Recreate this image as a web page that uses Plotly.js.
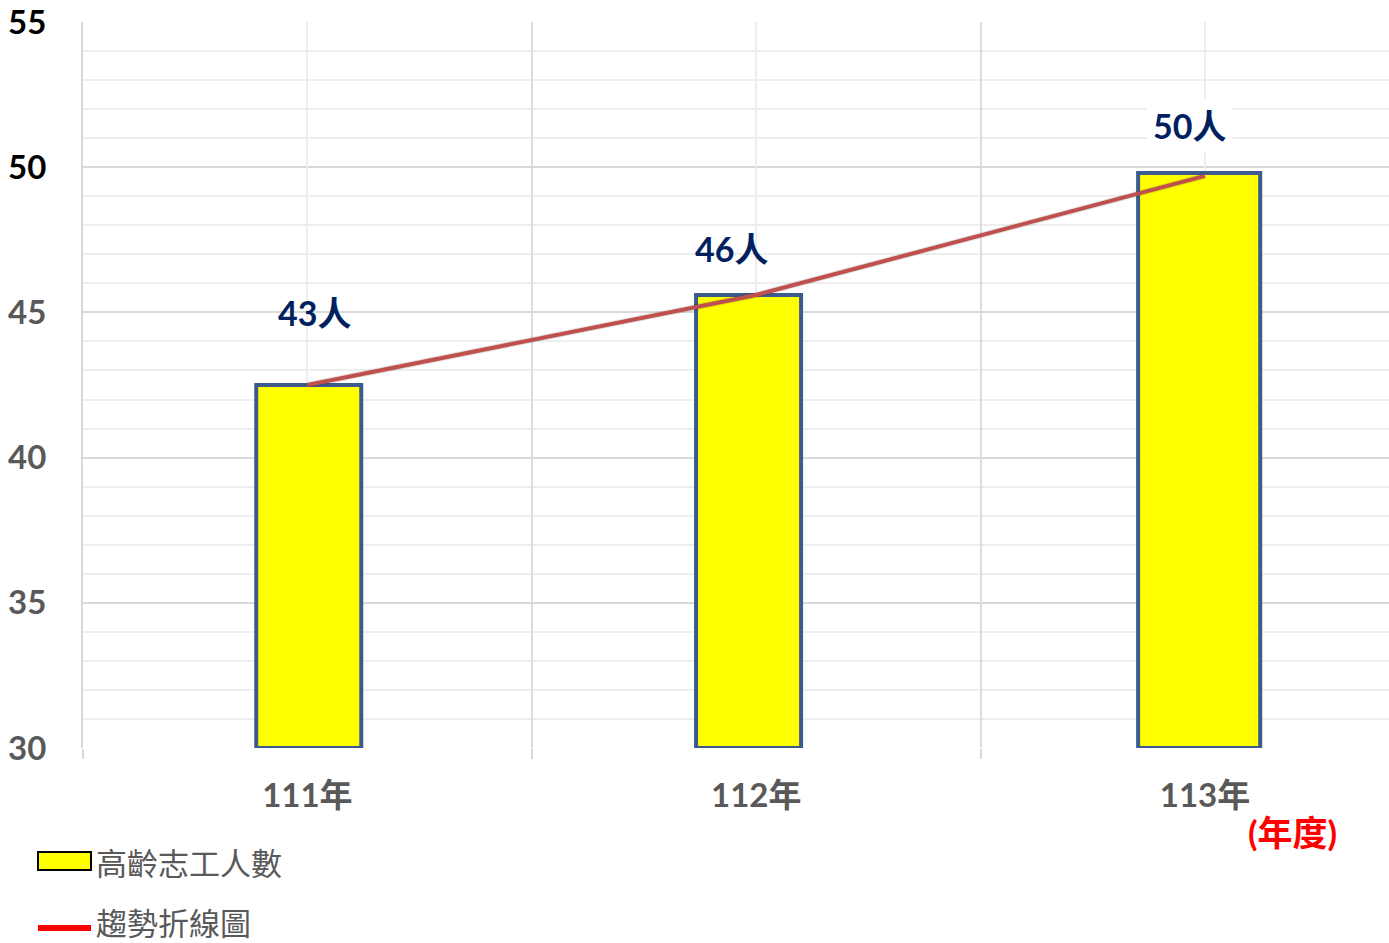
<!DOCTYPE html>
<html>
<head>
<meta charset="utf-8">
<script src="https://cdn.plot.ly/plotly-3.0.1.min.js"></script>
<style>html,body{margin:0;padding:0;background:#fff;}#chart{width:1389px;height:943px;}</style>
</head>
<body>
<div id="chart"></div>
<script>
var categories = ['111年', '112年', '113年'];
var barValues = [42.5, 45.6, 49.8];
var lineValues = [42.5, 45.6, 49.7];
var valueLabels = ['43人', '46人', '50人'];
var yTickVals = [30, 35, 40, 45, 50, 55];
var yTickText = ['30', '35', '40', '45', '<span style="color:#000">50</span>', '<span style="color:#000">55</span>'];
var barName = '高齡志工人數';
var lineName = '趨勢折線圖';
var unitLabel = '(年度)';

var FONT = 'Lato, "Open Sans", "Noto Sans CJK TC", sans-serif';

var traces = [
  {type: 'scatter', x: [0], y: [null], xaxis: 'x2', yaxis: 'y', showlegend: false, hoverinfo: 'skip'},
  {
    type: 'bar', x: categories, y: barValues.map(function(v){return v - 30;}), base: 30,
    width: [0.234, 0.234, 0.272], offset: [-0.114, -0.134, -0.149],
    marker: {color: '#ffff00', line: {color: '#3b5b8c', width: 4}},
    showlegend: false, hoverinfo: 'skip'
  },
  {
    type: 'scatter', mode: 'lines', x: categories, y: lineValues,
    line: {color: 'rgba(0,0,0,0.12)', width: 6},
    showlegend: false, hoverinfo: 'skip'
  },
  {
    type: 'scatter', mode: 'lines', x: categories, y: lineValues,
    line: {color: '#c0504d', width: 4},
    showlegend: false, hoverinfo: 'skip'
  }
];

var labelY = [45.0, 47.2, 51.45];
var labelDx = [7, -25, -15];
var annotations = categories.map(function(c, i){
  return {x: c, y: labelY[i], xref: 'x', yref: 'y', text: '<b>' + valueLabels[i] + '</b>',
    showarrow: false, xshift: labelDx[i], font: {family: FONT, size: 34, color: '#002060'},
    bgcolor: i === 2 ? '#ffffff' : 'rgba(0,0,0,0)', borderpad: 6};
});
annotations.push({xref: 'paper', yref: 'paper', x: 1.0, y: 0, xshift: -50, yshift: -84, xanchor: 'right', yanchor: 'middle',
  text: '<b>' + unitLabel + '</b>', showarrow: false, font: {family: FONT, size: 35, color: '#ff0000'}});
// custom legend
annotations.push({xref: 'paper', yref: 'paper', x: 0, y: 0, xshift: 12, yshift: -113, xanchor: 'left', yanchor: 'middle',
  text: barName, showarrow: false, borderpad: 0, font: {family: '"Noto Sans CJK TC", sans-serif', size: 31, color: '#595959'}});
annotations.push({xref: 'paper', yref: 'paper', x: 0, y: 0, xshift: 12, yshift: -173, xanchor: 'left', yanchor: 'middle',
  text: lineName, showarrow: false, borderpad: 0, font: {family: '"Noto Sans CJK TC", sans-serif', size: 31, color: '#595959'}});

var layout = {
  width: 1389, height: 943,
  margin: {l: 83, r: 0, t: 22, b: 195},
  paper_bgcolor: '#ffffff', plot_bgcolor: '#ffffff',
  font: {family: FONT},
  xaxis: {
    type: 'category', range: [-0.5, 2.41],
    tickson: 'boundaries', ticks: 'outside', ticklen: 10, tickcolor: '#d9d9d9', tickwidth: 2,
    showgrid: true, gridcolor: '#dcdcdc', gridwidth: 2,
    showline: false, zeroline: false,
    tickfont: {family: FONT, size: 33, color: '#595959', weight: 'bold'},
    ticklabelstandoff: 25
  },
  xaxis2: {
    overlaying: 'x', type: 'linear', range: [-0.5, 2.41], tickvals: [0, 1, 2],
    showticklabels: false, ticks: '', showgrid: true, gridcolor: '#eeeeee', gridwidth: 2,
    zeroline: false, showline: false
  },
  yaxis: {
    range: [30, 55], tickvals: yTickVals, ticktext: yTickText,
    showgrid: true, gridcolor: '#d9d9d9', gridwidth: 2,
    minor: {dtick: 1, showgrid: true, gridcolor: '#eeeeee', gridwidth: 2},
    showline: true, linecolor: '#d9d9d9', linewidth: 2, zeroline: false,
    tickfont: {family: FONT, size: 33, color: '#595959', weight: 'bold'},
    ticklabelstandoff: 28
  },
  shapes: [
    {type: 'rect', xref: 'paper', yref: 'paper',
      xsizemode: 'pixel', ysizemode: 'pixel', xanchor: 0, yanchor: 0,
      x0: -45, x1: 8, y0: -104, y1: -122, fillcolor: '#ffff00', line: {color: '#000000', width: 2}},
    {type: 'line', xref: 'paper', yref: 'paper',
      xsizemode: 'pixel', ysizemode: 'pixel', xanchor: 0, yanchor: 0,
      x0: -45, x1: 8, y0: -180, y1: -180, line: {color: '#ff0000', width: 6}}
  ],
  annotations: annotations,
  showlegend: false
};

Plotly.newPlot('chart', traces, layout, {displayModeBar: false, staticPlot: true});
</script>
</body>
</html>
